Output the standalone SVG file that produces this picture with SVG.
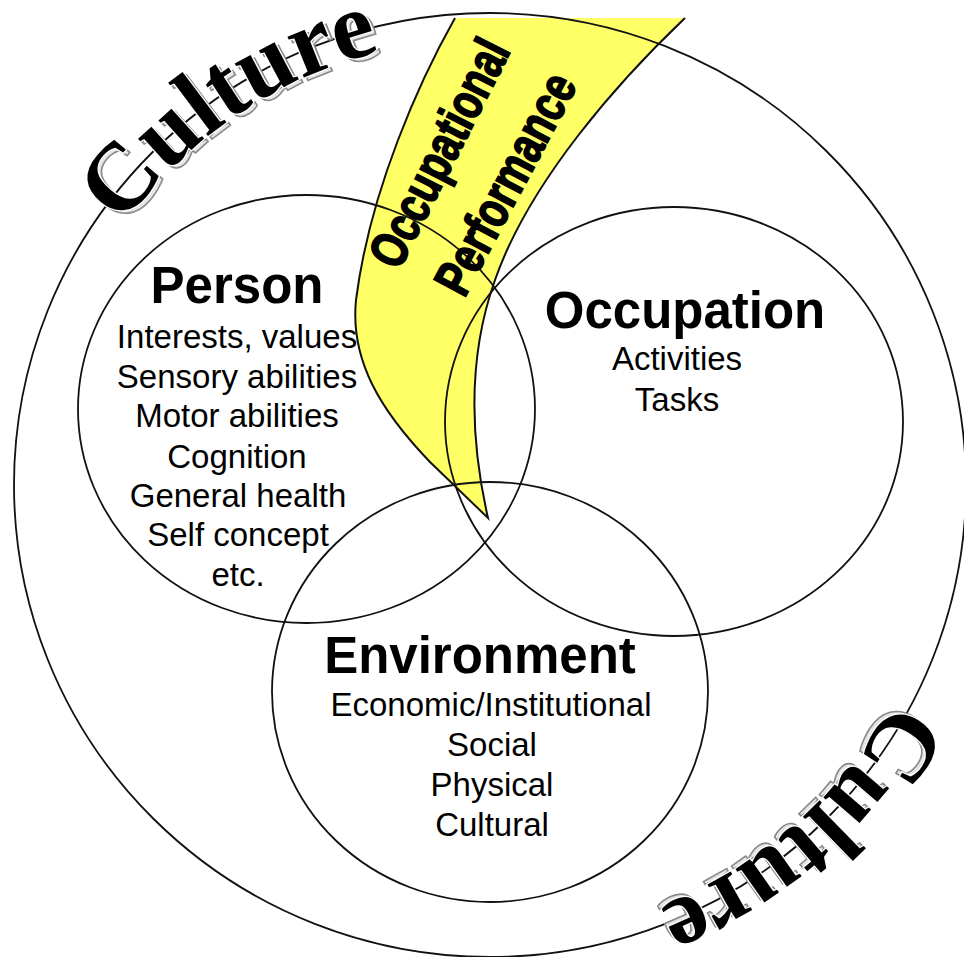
<svg xmlns="http://www.w3.org/2000/svg" xmlns:xlink="http://www.w3.org/1999/xlink" width="964" height="957" viewBox="0 0 964 957">
  <style>
    .ring { fill: none; stroke: #111; stroke-width: 1.8; }
    .band { fill: #ffff66; stroke: none; }
    .band-edge { fill: none; stroke: #111; stroke-width: 2; stroke-linejoin: miter; }
    .title { font-family: "Liberation Sans", Arial, sans-serif; font-weight: bold; font-size: 51px; fill: #000; text-anchor: middle; }
    .item { font-family: "Liberation Sans", Arial, sans-serif; font-size: 33px; fill: #000; text-anchor: middle; }
    .perf { font-family: "Liberation Sans Narrow", "Liberation Sans", Arial, sans-serif; font-weight: bold; font-size: 52px; fill: #000; stroke: #000; stroke-width: 1.8; text-anchor: middle; }
    .culture { font-family: "Liberation Serif", "Times New Roman", serif; font-weight: bold; font-size: 96px; }
    .culture-shadow { fill: #e6e6e6; stroke: #8a8a8a; stroke-width: 1.6; }
    .culture-main { fill: #000; stroke: #fff; stroke-width: 2.5; paint-order: stroke; }
  </style>
  <defs>
    <!-- baselines for the two curved "Culture" labels, both running clockwise -->
    <path id="arcTop" d="M122.4,226.1 A451,447 0 0 1 568.3,44.8"/>
    <path id="arcBottom" d="M894,699 A458,454 0 0 1 410.5,932"/>
  </defs>

  <rect width="964" height="957" fill="#fff"/>

  <!-- occupational performance band -->
  <g id="performance-band">
    <path class="band" d="M455,18 C420,80 370,190 356,300 C350,360 380,410 430,462 L488,518 C468,430 470,350 495,280 C530,180 620,80 685,18 Z"/>
    <path class="band-edge" d="M455,18 C420,80 370,190 356,300 C350,360 380,410 430,462 L488,518 C468,430 470,350 495,280 C530,180 620,80 685,18"/>
  </g>

  <!-- outer culture ring -->
  <g id="culture">
    <ellipse class="ring" cx="490" cy="485" rx="476" ry="472"/>
    <g transform="translate(4,3)">
      <text class="culture culture-shadow"><textPath xlink:href="#arcTop" href="#arcTop" textLength="318" lengthAdjust="spacingAndGlyphs">Culture</textPath></text>
    </g>
    <text class="culture culture-main"><textPath xlink:href="#arcTop" href="#arcTop" textLength="318" lengthAdjust="spacingAndGlyphs">Culture</textPath></text>
    <g transform="translate(-4,-3)">
      <text class="culture culture-shadow"><textPath xlink:href="#arcBottom" href="#arcBottom" textLength="322" lengthAdjust="spacingAndGlyphs">Culture</textPath></text>
    </g>
    <text class="culture culture-main"><textPath xlink:href="#arcBottom" href="#arcBottom" textLength="322" lengthAdjust="spacingAndGlyphs">Culture</textPath></text>
  </g>

  <g id="person">
    <ellipse class="ring" cx="306.5" cy="409" rx="228.5" ry="214"/>
    <text class="title" x="237" y="303">Person</text>
    <text class="item" x="237" y="348">Interests, values</text>
    <text class="item" x="237" y="388">Sensory abilities</text>
    <text class="item" x="237" y="427">Motor abilities</text>
    <text class="item" x="237" y="468">Cognition</text>
    <text class="item" x="238" y="507">General health</text>
    <text class="item" x="238" y="546">Self concept</text>
    <text class="item" x="238" y="586">etc.</text>
  </g>

  <g id="occupation">
    <ellipse class="ring" cx="674" cy="421.5" rx="229" ry="214.5"/>
    <text class="title" x="685" y="328">Occupation</text>
    <text class="item" x="677" y="370">Activities</text>
    <text class="item" x="677" y="411">Tasks</text>
  </g>

  <g id="environment">
    <ellipse class="ring" cx="490" cy="692" rx="218" ry="210"/>
    <text class="title" x="480" y="673">Environment</text>
    <text class="item" x="491" y="716">Economic/Institutional</text>
    <text class="item" x="492" y="756">Social</text>
    <text class="item" x="492" y="796">Physical</text>
    <text class="item" x="492" y="836">Cultural</text>
  </g>

  <!-- band labels -->
  <g id="performance-label">
    <text class="perf" transform="translate(455,161) rotate(-63)" textLength="248" lengthAdjust="spacingAndGlyphs">Occupational</text>
    <text class="perf" transform="translate(521,192) rotate(-62)" textLength="242" lengthAdjust="spacingAndGlyphs">Performance</text>
  </g>
</svg>
